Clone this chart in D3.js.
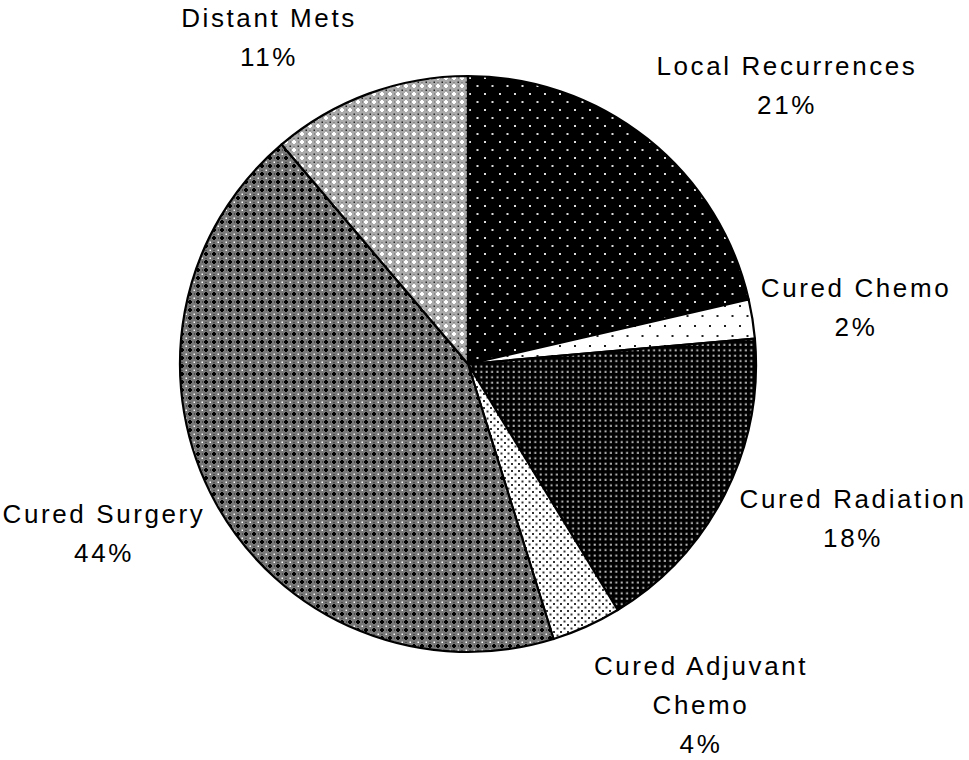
<!DOCTYPE html>
<html>
<head>
<meta charset="utf-8">
<script src="https://cdn.jsdelivr.net/npm/d3@7"></script>
<style>
  body { margin: 0; background: #fff; }
  svg { display: block; }
</style>
</head>
<body>
<svg id="chart"></svg>
<script>
// slice data, clockwise from 12 o'clock
const categories = ["Local Recurrences", "Cured Chemo", "Cured Radiation", "Cured Adjuvant Chemo", "Cured Surgery", "Distant Mets"];
const values = [21.4, 2.2, 17.7, 3.9, 43.6, 11.2];
const pctLabels = ["21%", "2%", "18%", "4%", "44%", "11%"];

const width = 969;
const height = 760;
const cx = 468, cy = 364, radius = 288;

// label anchors (center x, first baseline) and line breaks
const labelLayout = [
  { x: 787, y: 75, lines: ["Local Recurrences"] },
  { x: 856, y: 297, lines: ["Cured Chemo"] },
  { x: 853, y: 508, lines: ["Cured Radiation"] },
  { x: 701, y: 675, lines: ["Cured Adjuvant", "Chemo"] },
  { x: 104, y: 523, lines: ["Cured Surgery"] },
  { x: 269, y: 27, lines: ["Distant Mets"] },
];
const lineH = 39;

const svg = d3.select("#chart").attr("width", width).attr("height", height);
const defs = svg.append("defs");

// fill patterns, roughly like the old office hatch bitmaps
function pattern(id, w, h, bg, draw) {
  const p = defs.append("pattern")
    .attr("id", id)
    .attr("patternUnits", "userSpaceOnUse")
    .attr("width", w).attr("height", h);
  p.append("rect").attr("width", w).attr("height", h).attr("fill", bg);
  draw(p);
}
const dot = (p, x, y, s, c) =>
  p.append("rect").attr("x", x).attr("y", y).attr("width", s).attr("height", s).attr("fill", c);
const plus = (p, x, y, c) => {
  p.append("rect").attr("x", x - 1).attr("y", y - 2).attr("width", 2).attr("height", 4).attr("fill", c);
  p.append("rect").attr("x", x - 2).attr("y", y - 1).attr("width", 4).attr("height", 2).attr("fill", c);
};

pattern("p0", 15, 16, "#000", (p) => { dot(p, 1, 1, 2, "#ddd"); dot(p, 8.5, 9, 2, "#ddd"); });
pattern("p1", 15, 20, "#fff", (p) => { dot(p, 1, 1, 2, "#222"); dot(p, 8.5, 11, 2, "#222"); });
pattern("p2", 5.4, 5.4, "#000", (p) => { dot(p, 1.5, 1.5, 2, "#bbb"); });
pattern("p3", 7, 7, "#fff", (p) => { dot(p, 1, 1, 2, "#333"); dot(p, 4.5, 4.5, 2, "#333"); });
pattern("p4", 8, 8, "#777", (p) => {
  plus(p, 2, 2, "#000");
  dot(p, 5.5, 5.5, 1.5, "#fff");
  dot(p, 6, 1.5, 1, "#222");
  dot(p, 1.5, 6, 1, "#222");
});
pattern("p5", 8, 8, "#aaa", (p) => {
  plus(p, 2, 2, "#fff");
  dot(p, 5.5, 5.5, 1.5, "#222");
  dot(p, 6, 1.5, 1, "#666");
  dot(p, 1.5, 6, 1, "#666");
});

const data = categories.map((c, i) => ({ name: c, value: values[i], pct: pctLabels[i], i }));

const pie = d3.pie().sort(null).value((d) => d.value).startAngle(0).endAngle(2 * Math.PI);
const arc = d3.arc().innerRadius(0).outerRadius(radius);

const g = svg.append("g").attr("transform", `translate(${cx},${cy})`);

g.selectAll(".slice")
  .data(pie(data))
  .join("path")
  .attr("class", "slice")
  .attr("d", arc)
  .attr("fill", (d) => `url(#p${d.data.i})`)
  .attr("stroke", "#000")
  .attr("stroke-width", 2.2)
  .attr("stroke-linejoin", "round");

// labels
const labels = svg.selectAll(".lbl")
  .data(data)
  .join("text")
  .attr("class", "lbl")
  .attr("text-anchor", "middle")
  .attr("font-family", "Liberation Sans, Arial, sans-serif")
  .attr("font-size", 26)
  .attr("letter-spacing", 2.6)
  .attr("fill", "#000");

labels.each(function (d) {
  const lay = labelLayout[d.i];
  const t = d3.select(this);
  lay.lines.concat([d.pct]).forEach((ln, k) => {
    t.append("tspan")
      .attr("x", lay.x)
      .attr("y", lay.y + k * lineH)
      .text(ln);
  });
});
</script>
</body>
</html>
